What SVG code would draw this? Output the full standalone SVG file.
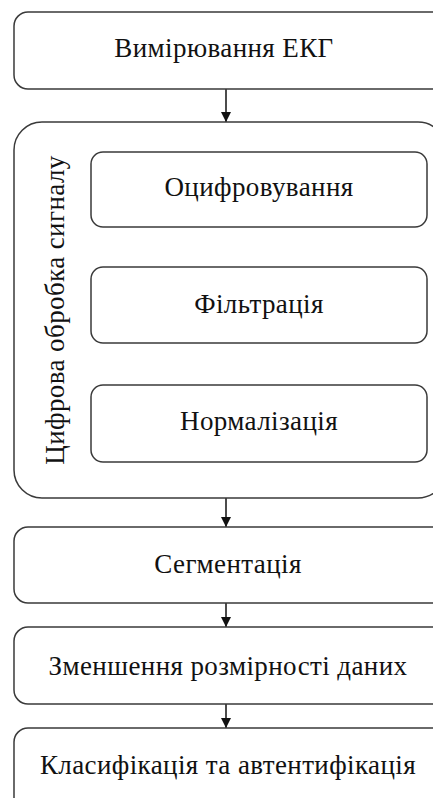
<svg xmlns="http://www.w3.org/2000/svg" width="433" height="798" viewBox="0 0 433 798">
  <style>
    .box { fill: #ffffff; stroke: #3a3a3a; stroke-width: 1.5; }
    .lbl { font-family: "Liberation Serif", "Times New Roman", serif; font-size: 27px; letter-spacing: 0.4px; fill: #111111; text-anchor: middle; }
    .edge { stroke: #111111; stroke-width: 1.5; fill: none; marker-end: url(#arrow); }
  </style>
  <defs>
    <marker id="arrow" viewBox="0 0 10 10" refX="10" refY="5" markerWidth="10" markerHeight="10" markerUnits="userSpaceOnUse" orient="auto">
      <path d="M0,0 L10,5 L0,10 z" fill="#111111"/>
    </marker>
  </defs>
  <rect width="433" height="798" fill="#ffffff"/>

  <g id="connectors">
    <line class="edge" x1="226" y1="89" x2="226" y2="122"/>
    <line class="edge" x1="226" y1="498" x2="226" y2="527"/>
    <line class="edge" x1="226" y1="603" x2="226" y2="627"/>
    <line class="edge" x1="226" y1="704" x2="226" y2="728"/>
  </g>

  <g id="measure">
    <rect class="box" x="14" y="12" width="432" height="77" rx="14"/>
    <text class="lbl" x="224" y="57">Вимірювання ЕКГ</text>
  </g>

  <g id="dsp">
    <rect class="box" x="14" y="122" width="432" height="376" rx="28"/>
    <text class="lbl" transform="translate(64,310) rotate(-90)">Цифрова обробка сигналу</text>
  </g>

  <g id="digitize">
    <rect class="box" x="91" y="152" width="336" height="75" rx="12"/>
    <text class="lbl" x="259" y="196">Оцифровування</text>
  </g>

  <g id="filter">
    <rect class="box" x="91" y="267" width="336" height="76" rx="12"/>
    <text class="lbl" x="259" y="313">Фільтрація</text>
  </g>

  <g id="normalize">
    <rect class="box" x="91" y="385" width="336" height="77" rx="12"/>
    <text class="lbl" x="259" y="430">Нормалізація</text>
  </g>

  <g id="segment">
    <rect class="box" x="14" y="527" width="432" height="76" rx="14"/>
    <text class="lbl" x="228" y="573">Сегментація</text>
  </g>

  <g id="reduce">
    <rect class="box" x="14" y="627" width="432" height="77" rx="14"/>
    <text class="lbl" x="228" y="675">Зменшення розмірності даних</text>
  </g>

  <g id="classify">
    <rect class="box" x="14" y="728" width="432" height="90" rx="14"/>
    <text class="lbl" x="228" y="774">Класифікація та автентифікація</text>
  </g>
</svg>
